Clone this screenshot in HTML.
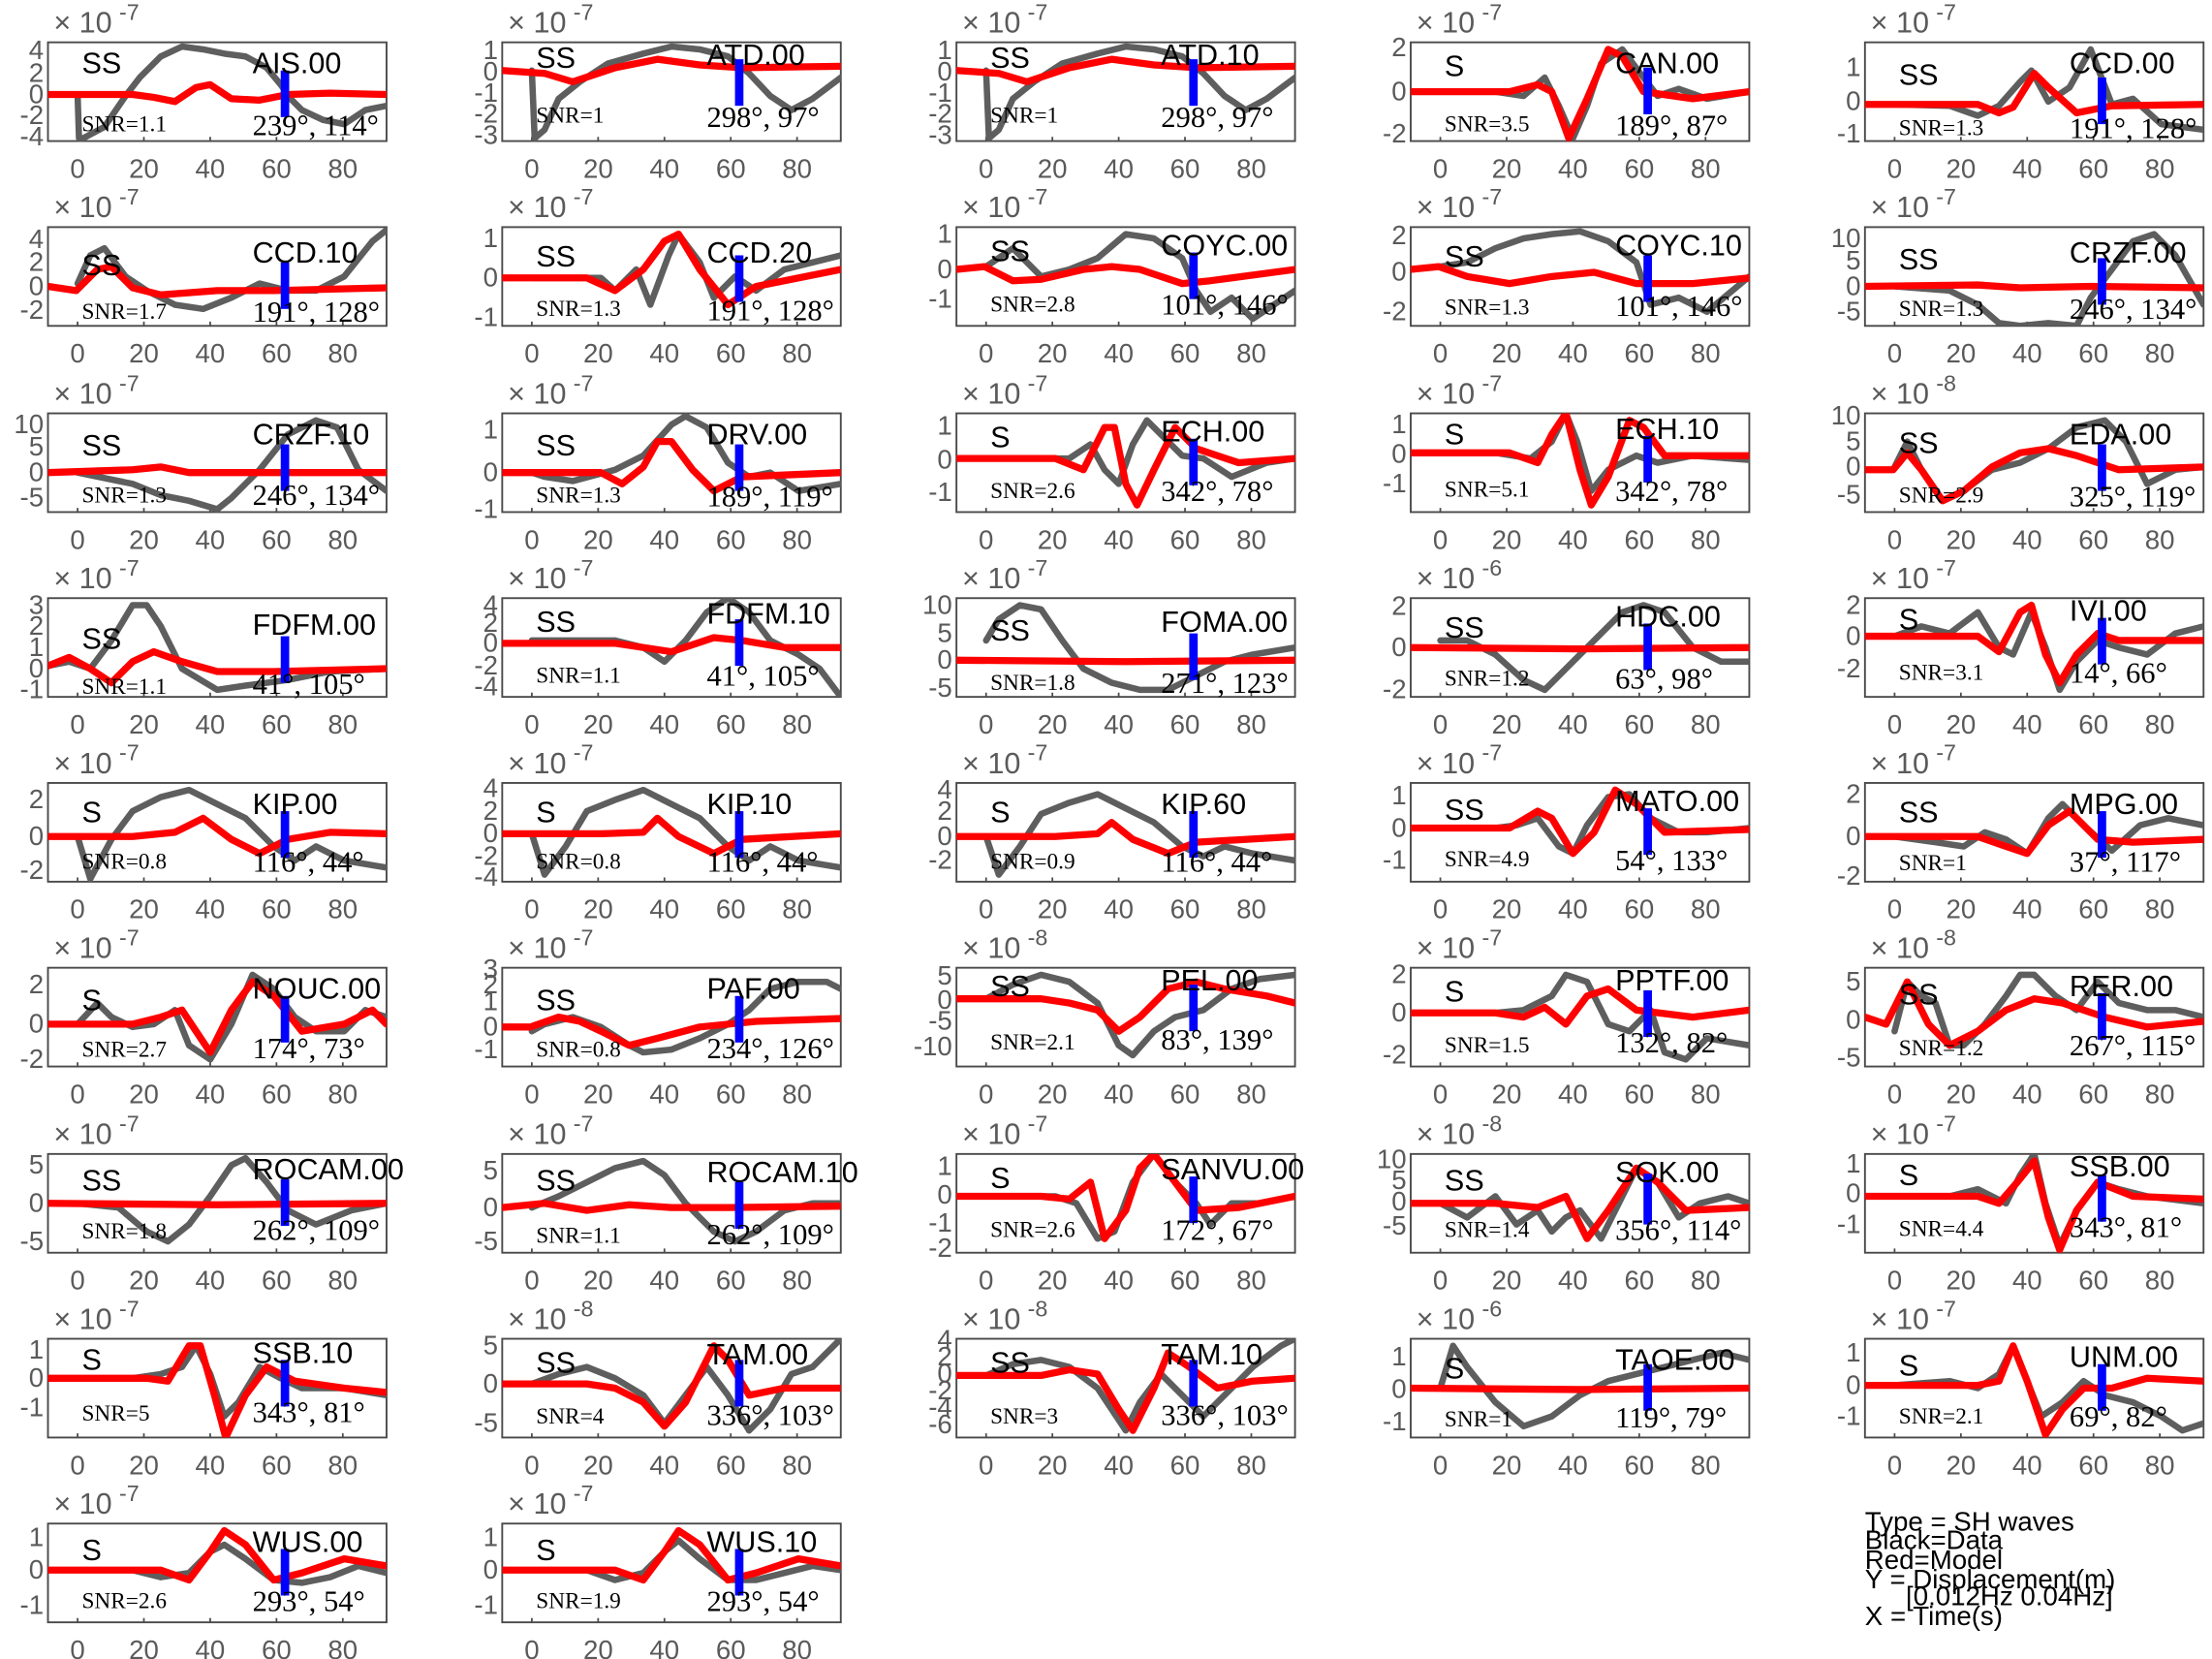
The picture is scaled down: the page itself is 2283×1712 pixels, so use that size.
<!DOCTYPE html>
<html><head><meta charset="utf-8"><style>
html,body{margin:0;padding:0;background:#fff}
svg{display:block}
.f{fill:none;stroke:#4a4a4a;stroke-width:1.3}
.k{stroke:#4a4a4a;stroke-width:1.2}
.g{fill:none;stroke:#5e5e5e;stroke-width:4.5;stroke-linejoin:round;stroke-linecap:round}
.r{fill:none;stroke:#ff0000;stroke-width:5;stroke-linejoin:round;stroke-linecap:round}
.b{fill:#0000ff}
.xt{font-family:"Liberation Sans",sans-serif;font-size:19px;fill:#5a5a5a;text-anchor:middle}
.yt{font-family:"Liberation Sans",sans-serif;font-size:19px;fill:#5a5a5a;text-anchor:end}
.e{font-family:"Liberation Sans",sans-serif;font-size:21px;fill:#5a5a5a}
.nm{font-family:"Liberation Sans",sans-serif;font-size:21px;fill:#000}
.ph{font-family:"Liberation Sans",sans-serif;font-size:21px;fill:#000}
.sn{font-family:"Liberation Serif",serif;font-size:16px;fill:#000}
.an{font-family:"Liberation Serif",serif;font-size:21px;fill:#000}
.lg{font-family:"Liberation Sans",sans-serif;font-size:19px;fill:#000}
</style></head><body>
<svg width="2283" height="1712" viewBox="0 0 1568 1176" preserveAspectRatio="none" xmlns="http://www.w3.org/2000/svg">
<defs><clipPath id="c" clipPathUnits="userSpaceOnUse"><rect x="0" y="0" width="240" height="70"/></clipPath></defs>

<!-- Row 1 -->
<g transform="translate(34,30)"><rect class="f" width="240" height="70"/><path class="k" d="M21,70v-3M68,70v-3M115,70v-3M162,70v-3M209,70v-3"/>
<text class="xt" y="96"><tspan x="21">0</tspan><tspan x="68">20</tspan><tspan x="115">40</tspan><tspan x="162">60</tspan><tspan x="209">80</tspan></text>
<text class="yt"><tspan x="-3" y="12">4</tspan><tspan x="-3" y="28">2</tspan><tspan x="-3" y="43">0</tspan><tspan x="-3" y="58">-2</tspan><tspan x="-3" y="73">-4</tspan></text>
<text class="e" x="4" y="-7">× 10<tspan dx="5" dy="-9" font-size="16">-7</tspan></text>
<polyline class="g" clip-path="url(#c)" points="21,37 22,68 25,68 40,60 55,38 65,25 80,10 95,3 110,5 125,8 140,10 155,18 165,30 172,40 180,48 195,55 210,58 225,48 240,45"/>
<polyline class="r" clip-path="url(#c)" points="0,37 60,37 75,39 90,42 105,32 115,30 130,40 150,41 170,37 200,36 240,37"/>
<rect class="b" x="165" y="20" width="6" height="33"/>
<text class="ph" x="24" y="22">SS</text><text class="nm" x="145" y="22">AIS.00</text><text class="sn" x="24" y="63">SNR=1.1</text><text class="an" x="145" y="66">239°, 114°</text></g>

<g transform="translate(356,30)"><rect class="f" width="240" height="70"/><path class="k" d="M21,70v-3M68,70v-3M115,70v-3M162,70v-3M209,70v-3"/>
<text class="xt" y="96"><tspan x="21">0</tspan><tspan x="68">20</tspan><tspan x="115">40</tspan><tspan x="162">60</tspan><tspan x="209">80</tspan></text>
<text class="yt"><tspan x="-3" y="12">1</tspan><tspan x="-3" y="27">0</tspan><tspan x="-3" y="42">-1</tspan><tspan x="-3" y="57">-2</tspan><tspan x="-3" y="72">-3</tspan></text>
<text class="e" x="4" y="-7">× 10<tspan dx="5" dy="-9" font-size="16">-7</tspan></text>
<polyline class="g" clip-path="url(#c)" points="21,20 23,68 30,62 40,40 55,28 75,15 100,8 120,3 140,5 160,10 175,22 190,38 205,48 220,40 240,25"/>
<polyline class="r" clip-path="url(#c)" points="0,20 30,22 50,28 80,18 110,12 140,16 170,18 240,17"/>
<rect class="b" x="165" y="12" width="6" height="33"/>
<text class="ph" x="24" y="18">SS</text><text class="nm" x="145" y="16">ATD.00</text><text class="sn" x="24" y="57">SNR=1</text><text class="an" x="145" y="60">298°, 97°</text></g>

<g transform="translate(678,30)"><rect class="f" width="240" height="70"/><path class="k" d="M21,70v-3M68,70v-3M115,70v-3M162,70v-3M209,70v-3"/>
<text class="xt" y="96"><tspan x="21">0</tspan><tspan x="68">20</tspan><tspan x="115">40</tspan><tspan x="162">60</tspan><tspan x="209">80</tspan></text>
<text class="yt"><tspan x="-3" y="12">1</tspan><tspan x="-3" y="27">0</tspan><tspan x="-3" y="42">-1</tspan><tspan x="-3" y="57">-2</tspan><tspan x="-3" y="72">-3</tspan></text>
<text class="e" x="4" y="-7">× 10<tspan dx="5" dy="-9" font-size="16">-7</tspan></text>
<polyline class="g" clip-path="url(#c)" points="21,20 23,68 30,62 40,40 55,28 75,15 100,8 120,3 140,5 160,10 175,22 190,38 205,48 220,40 240,25"/>
<polyline class="r" clip-path="url(#c)" points="0,20 30,22 50,28 80,18 110,12 140,16 170,18 240,17"/>
<rect class="b" x="165" y="12" width="6" height="33"/>
<text class="ph" x="24" y="18">SS</text><text class="nm" x="145" y="16">ATD.10</text><text class="sn" x="24" y="57">SNR=1</text><text class="an" x="145" y="60">298°, 97°</text></g>

<g transform="translate(1000,30)"><rect class="f" width="240" height="70"/><path class="k" d="M21,70v-3M68,70v-3M115,70v-3M162,70v-3M209,70v-3"/>
<text class="xt" y="96"><tspan x="21">0</tspan><tspan x="68">20</tspan><tspan x="115">40</tspan><tspan x="162">60</tspan><tspan x="209">80</tspan></text>
<text class="yt"><tspan x="-3" y="10">2</tspan><tspan x="-3" y="41">0</tspan><tspan x="-3" y="71">-2</tspan></text>
<text class="e" x="4" y="-7">× 10<tspan dx="5" dy="-9" font-size="16">-7</tspan></text>
<polyline class="g" clip-path="url(#c)" points="21,35 60,35 80,38 95,25 105,45 115,68 125,45 135,15 150,5 165,25 175,38 190,33 210,40 240,35"/>
<polyline class="r" clip-path="url(#c)" points="0,35 70,35 90,30 100,35 112,68 125,40 140,5 150,10 165,35 200,40 240,35"/>
<rect class="b" x="165" y="18" width="6" height="33"/>
<text class="ph" x="24" y="24">S</text><text class="nm" x="145" y="22">CAN.00</text><text class="sn" x="24" y="63">SNR=3.5</text><text class="an" x="145" y="66">189°, 87°</text></g>

<g transform="translate(1322,30)"><rect class="f" width="240" height="70"/><path class="k" d="M21,70v-3M68,70v-3M115,70v-3M162,70v-3M209,70v-3"/>
<text class="xt" y="96"><tspan x="21">0</tspan><tspan x="68">20</tspan><tspan x="115">40</tspan><tspan x="162">60</tspan><tspan x="209">80</tspan></text>
<text class="yt"><tspan x="-3" y="24">1</tspan><tspan x="-3" y="48">0</tspan><tspan x="-3" y="71">-1</tspan></text>
<text class="e" x="4" y="-7">× 10<tspan dx="5" dy="-9" font-size="16">-7</tspan></text>
<polyline class="g" clip-path="url(#c)" points="21,44 60,45 80,52 95,45 110,28 118,20 130,42 145,32 160,5 175,44 190,40 210,58 240,62"/>
<polyline class="r" clip-path="url(#c)" points="0,44 80,44 95,50 105,46 120,22 130,32 150,50 175,45 240,44"/>
<rect class="b" x="165" y="25" width="6" height="33"/>
<text class="ph" x="24" y="30">SS</text><text class="nm" x="145" y="22">CCD.00</text><text class="sn" x="24" y="66">SNR=1.3</text><text class="an" x="145" y="68">191°, 128°</text></g>

<!-- Row 2 -->
<g transform="translate(34,161)"><rect class="f" width="240" height="70"/><path class="k" d="M21,70v-3M68,70v-3M115,70v-3M162,70v-3M209,70v-3"/>
<text class="xt" y="96"><tspan x="21">0</tspan><tspan x="68">20</tspan><tspan x="115">40</tspan><tspan x="162">60</tspan><tspan x="209">80</tspan></text>
<text class="yt"><tspan x="-3" y="15">4</tspan><tspan x="-3" y="31">2</tspan><tspan x="-3" y="48">0</tspan><tspan x="-3" y="65">-2</tspan></text>
<text class="e" x="4" y="-7">× 10<tspan dx="5" dy="-9" font-size="16">-7</tspan></text>
<polyline class="g" clip-path="url(#c)" points="21,40 30,20 40,15 55,35 70,45 90,55 110,58 130,50 150,40 170,45 190,45 210,35 230,10 240,2"/>
<polyline class="r" clip-path="url(#c)" points="0,42 20,45 35,30 45,28 60,43 80,48 120,45 160,45 240,43"/>
<rect class="b" x="165" y="25" width="6" height="33"/>
<text class="ph" x="24" y="34">SS</text><text class="nm" x="145" y="25">CCD.10</text><text class="sn" x="24" y="65">SNR=1.7</text><text class="an" x="145" y="67">191°, 128°</text></g>

<g transform="translate(356,161)"><rect class="f" width="240" height="70"/><path class="k" d="M21,70v-3M68,70v-3M115,70v-3M162,70v-3M209,70v-3"/>
<text class="xt" y="96"><tspan x="21">0</tspan><tspan x="68">20</tspan><tspan x="115">40</tspan><tspan x="162">60</tspan><tspan x="209">80</tspan></text>
<text class="yt"><tspan x="-3" y="14">1</tspan><tspan x="-3" y="42">0</tspan><tspan x="-3" y="70">-1</tspan></text>
<text class="e" x="4" y="-7">× 10<tspan dx="5" dy="-9" font-size="16">-7</tspan></text>
<polyline class="g" clip-path="url(#c)" points="21,36 70,36 80,45 95,30 105,55 118,20 125,5 140,25 150,50 165,35 180,45 200,30 220,25 240,20"/>
<polyline class="r" clip-path="url(#c)" points="0,36 60,36 80,45 100,30 115,10 125,5 140,30 160,55 180,42 240,30"/>
<rect class="b" x="165" y="20" width="6" height="33"/>
<text class="ph" x="24" y="28">SS</text><text class="nm" x="145" y="25">CCD.20</text><text class="sn" x="24" y="63">SNR=1.3</text><text class="an" x="145" y="66">191°, 128°</text></g>

<g transform="translate(678,161)"><rect class="f" width="240" height="70"/><path class="k" d="M21,70v-3M68,70v-3M115,70v-3M162,70v-3M209,70v-3"/>
<text class="xt" y="96"><tspan x="21">0</tspan><tspan x="68">20</tspan><tspan x="115">40</tspan><tspan x="162">60</tspan><tspan x="209">80</tspan></text>
<text class="yt"><tspan x="-3" y="11">1</tspan><tspan x="-3" y="36">0</tspan><tspan x="-3" y="57">-1</tspan></text>
<text class="e" x="4" y="-7">× 10<tspan dx="5" dy="-9" font-size="16">-7</tspan></text>
<polyline class="g" clip-path="url(#c)" points="21,28 40,15 60,35 80,30 100,22 120,5 140,8 160,22 170,45 180,60 195,50 210,65 240,45"/>
<polyline class="r" clip-path="url(#c)" points="0,30 20,28 40,38 60,37 90,30 110,28 130,30 160,40 180,38 240,30"/>
<rect class="b" x="165" y="18" width="6" height="33"/>
<text class="ph" x="24" y="24">SS</text><text class="nm" x="145" y="20">COYC.00</text><text class="sn" x="24" y="60">SNR=2.8</text><text class="an" x="145" y="62">101°, 146°</text></g>

<g transform="translate(1000,161)"><rect class="f" width="240" height="70"/><path class="k" d="M21,70v-3M68,70v-3M115,70v-3M162,70v-3M209,70v-3"/>
<text class="xt" y="96"><tspan x="21">0</tspan><tspan x="68">20</tspan><tspan x="115">40</tspan><tspan x="162">60</tspan><tspan x="209">80</tspan></text>
<text class="yt"><tspan x="-3" y="12">2</tspan><tspan x="-3" y="38">0</tspan><tspan x="-3" y="66">-2</tspan></text>
<text class="e" x="4" y="-7">× 10<tspan dx="5" dy="-9" font-size="16">-7</tspan></text>
<polyline class="g" clip-path="url(#c)" points="21,28 40,25 60,15 80,8 100,5 120,3 140,10 160,25 170,55 190,50 210,60 240,35"/>
<polyline class="r" clip-path="url(#c)" points="0,30 20,28 40,35 70,40 100,35 130,32 160,40 200,40 240,36"/>
<rect class="b" x="165" y="20" width="6" height="33"/>
<text class="ph" x="24" y="28">SS</text><text class="nm" x="145" y="20">COYC.10</text><text class="sn" x="24" y="62">SNR=1.3</text><text class="an" x="145" y="63">101°, 146°</text></g>

<g transform="translate(1322,161)"><rect class="f" width="240" height="70"/><path class="k" d="M21,70v-3M68,70v-3M115,70v-3M162,70v-3M209,70v-3"/>
<text class="xt" y="96"><tspan x="21">0</tspan><tspan x="68">20</tspan><tspan x="115">40</tspan><tspan x="162">60</tspan><tspan x="209">80</tspan></text>
<text class="yt"><tspan x="-3" y="14">10</tspan><tspan x="-3" y="30">5</tspan><tspan x="-3" y="48">0</tspan><tspan x="-3" y="66">-5</tspan></text>
<text class="e" x="4" y="-7">× 10<tspan dx="5" dy="-9" font-size="16">-7</tspan></text>
<polyline class="g" clip-path="url(#c)" points="21,42 60,45 80,55 95,68 110,70 130,68 150,70 160,50 175,30 190,10 205,5 220,20 240,55"/>
<polyline class="r" clip-path="url(#c)" points="0,42 80,41 110,43 160,42 240,43"/>
<rect class="b" x="165" y="22" width="6" height="33"/>
<text class="ph" x="24" y="30">SS</text><text class="nm" x="145" y="25">CRZF.00</text><text class="sn" x="24" y="63">SNR=1.3</text><text class="an" x="145" y="65">246°, 134°</text></g>

<!-- Row 3 -->
<g transform="translate(34,293)"><rect class="f" width="240" height="70"/><path class="k" d="M21,70v-3M68,70v-3M115,70v-3M162,70v-3M209,70v-3"/>
<text class="xt" y="96"><tspan x="21">0</tspan><tspan x="68">20</tspan><tspan x="115">40</tspan><tspan x="162">60</tspan><tspan x="209">80</tspan></text>
<text class="yt"><tspan x="-3" y="14">10</tspan><tspan x="-3" y="30">5</tspan><tspan x="-3" y="48">0</tspan><tspan x="-3" y="66">-5</tspan></text>
<text class="e" x="4" y="-7">× 10<tspan dx="5" dy="-9" font-size="16">-7</tspan></text>
<polyline class="g" clip-path="url(#c)" points="21,42 60,50 80,58 100,62 120,68 130,60 150,40 170,15 190,5 205,10 220,40 240,55"/>
<polyline class="r" clip-path="url(#c)" points="0,42 60,40 80,38 100,42 240,42"/>
<rect class="b" x="165" y="22" width="6" height="33"/>
<text class="ph" x="24" y="30">SS</text><text class="nm" x="145" y="22">CRZF.10</text><text class="sn" x="24" y="63">SNR=1.3</text><text class="an" x="145" y="65">246°, 134°</text></g>

<g transform="translate(356,293)"><rect class="f" width="240" height="70"/><path class="k" d="M21,70v-3M68,70v-3M115,70v-3M162,70v-3M209,70v-3"/>
<text class="xt" y="96"><tspan x="21">0</tspan><tspan x="68">20</tspan><tspan x="115">40</tspan><tspan x="162">60</tspan><tspan x="209">80</tspan></text>
<text class="yt"><tspan x="-3" y="18">1</tspan><tspan x="-3" y="48">0</tspan><tspan x="-3" y="74">-1</tspan></text>
<text class="e" x="4" y="-7">× 10<tspan dx="5" dy="-9" font-size="16">-7</tspan></text>
<polyline class="g" clip-path="url(#c)" points="21,42 30,45 50,48 80,40 100,30 120,8 130,2 145,10 160,35 175,45 190,42 210,55 240,50"/>
<polyline class="r" clip-path="url(#c)" points="0,42 70,42 85,50 100,38 110,20 120,20 135,40 150,55 170,45 240,42"/>
<rect class="b" x="165" y="22" width="6" height="33"/>
<text class="ph" x="24" y="30">SS</text><text class="nm" x="145" y="22">DRV.00</text><text class="sn" x="24" y="63">SNR=1.3</text><text class="an" x="145" y="66">189°, 119°</text></g>

<g transform="translate(678,293)"><rect class="f" width="240" height="70"/><path class="k" d="M21,70v-3M68,70v-3M115,70v-3M162,70v-3M209,70v-3"/>
<text class="xt" y="96"><tspan x="21">0</tspan><tspan x="68">20</tspan><tspan x="115">40</tspan><tspan x="162">60</tspan><tspan x="209">80</tspan></text>
<text class="yt"><tspan x="-3" y="15">1</tspan><tspan x="-3" y="39">0</tspan><tspan x="-3" y="62">-1</tspan></text>
<text class="e" x="4" y="-7">× 10<tspan dx="5" dy="-9" font-size="16">-7</tspan></text>
<polyline class="g" clip-path="url(#c)" points="21,32 80,32 95,22 105,40 115,50 125,22 135,5 145,15 160,30 175,32 195,45 220,35 240,32"/>
<polyline class="r" clip-path="url(#c)" points="0,32 70,32 90,40 105,10 112,10 120,50 128,65 140,40 155,10 170,25 200,35 240,32"/>
<rect class="b" x="165" y="18" width="6" height="33"/>
<text class="ph" x="24" y="24">S</text><text class="nm" x="145" y="20">ECH.00</text><text class="sn" x="24" y="60">SNR=2.6</text><text class="an" x="145" y="62">342°, 78°</text></g>

<g transform="translate(1000,293)"><rect class="f" width="240" height="70"/><path class="k" d="M21,70v-3M68,70v-3M115,70v-3M162,70v-3M209,70v-3"/>
<text class="xt" y="96"><tspan x="21">0</tspan><tspan x="68">20</tspan><tspan x="115">40</tspan><tspan x="162">60</tspan><tspan x="209">80</tspan></text>
<text class="yt"><tspan x="-3" y="14">1</tspan><tspan x="-3" y="35">0</tspan><tspan x="-3" y="56">-1</tspan></text>
<text class="e" x="4" y="-7">× 10<tspan dx="5" dy="-9" font-size="16">-7</tspan></text>
<polyline class="g" clip-path="url(#c)" points="21,28 60,28 85,32 100,20 110,0 118,20 128,55 140,40 160,30 175,35 200,30 240,33"/>
<polyline class="r" clip-path="url(#c)" points="0,28 70,28 90,35 100,15 110,0 120,40 128,65 140,45 155,5 165,10 180,30 240,30"/>
<rect class="b" x="165" y="16" width="6" height="33"/>
<text class="ph" x="24" y="22">S</text><text class="nm" x="145" y="18">ECH.10</text><text class="sn" x="24" y="59">SNR=5.1</text><text class="an" x="145" y="62">342°, 78°</text></g>

<g transform="translate(1322,293)"><rect class="f" width="240" height="70"/><path class="k" d="M21,70v-3M68,70v-3M115,70v-3M162,70v-3M209,70v-3"/>
<text class="xt" y="96"><tspan x="21">0</tspan><tspan x="68">20</tspan><tspan x="115">40</tspan><tspan x="162">60</tspan><tspan x="209">80</tspan></text>
<text class="yt"><tspan x="-3" y="8">10</tspan><tspan x="-3" y="26">5</tspan><tspan x="-3" y="44">0</tspan><tspan x="-3" y="64">-5</tspan></text>
<text class="e" x="4" y="-7">× 10<tspan dx="5" dy="-9" font-size="16">-8</tspan></text>
<polyline class="g" clip-path="url(#c)" points="21,38 30,20 40,40 55,62 70,55 90,40 110,35 130,25 150,10 170,5 185,20 200,50 220,40 240,38"/>
<polyline class="r" clip-path="url(#c)" points="0,40 20,40 30,28 40,40 55,62 70,55 90,38 110,28 130,25 150,30 180,40 240,38"/>
<rect class="b" x="165" y="22" width="6" height="33"/>
<text class="ph" x="24" y="28">SS</text><text class="nm" x="145" y="22">EDA.00</text><text class="sn" x="24" y="63">SNR=2.9</text><text class="an" x="145" y="66">325°, 119°</text></g>

<!-- Row 4 -->
<g transform="translate(34,424)"><rect class="f" width="240" height="70"/><path class="k" d="M21,70v-3M68,70v-3M115,70v-3M162,70v-3M209,70v-3"/>
<text class="xt" y="96"><tspan x="21">0</tspan><tspan x="68">20</tspan><tspan x="115">40</tspan><tspan x="162">60</tspan><tspan x="209">80</tspan></text>
<text class="yt"><tspan x="-3" y="11">3</tspan><tspan x="-3" y="26">2</tspan><tspan x="-3" y="41">1</tspan><tspan x="-3" y="56">0</tspan><tspan x="-3" y="71">-1</tspan></text>
<text class="e" x="4" y="-7">× 10<tspan dx="5" dy="-9" font-size="16">-7</tspan></text>
<polyline class="g" clip-path="url(#c)" points="0,48 15,45 30,50 45,30 60,5 70,5 80,20 95,50 120,65 140,62 170,58 200,52 240,50"/>
<polyline class="r" clip-path="url(#c)" points="0,48 15,42 30,50 45,60 60,45 75,38 95,45 120,52 160,52 240,50"/>
<rect class="b" x="165" y="27" width="6" height="33"/>
<text class="ph" x="24" y="36">SS</text><text class="nm" x="145" y="26">FDFM.00</text><text class="sn" x="24" y="68">SNR=1.1</text><text class="an" x="145" y="68">41°, 105°</text></g>

<g transform="translate(356,424)"><rect class="f" width="240" height="70"/><path class="k" d="M21,70v-3M68,70v-3M115,70v-3M162,70v-3M209,70v-3"/>
<text class="xt" y="96"><tspan x="21">0</tspan><tspan x="68">20</tspan><tspan x="115">40</tspan><tspan x="162">60</tspan><tspan x="209">80</tspan></text>
<text class="yt"><tspan x="-3" y="11">4</tspan><tspan x="-3" y="24">2</tspan><tspan x="-3" y="38">0</tspan><tspan x="-3" y="54">-2</tspan><tspan x="-3" y="69">-4</tspan></text>
<text class="e" x="4" y="-7">× 10<tspan dx="5" dy="-9" font-size="16">-7</tspan></text>
<polyline class="g" clip-path="url(#c)" points="21,30 50,30 80,30 100,35 115,45 130,30 145,10 160,0 175,10 190,30 210,40 225,50 240,70"/>
<polyline class="r" clip-path="url(#c)" points="0,32 80,32 100,35 120,38 150,28 170,30 200,35 240,35"/>
<rect class="b" x="165" y="15" width="6" height="33"/>
<text class="ph" x="24" y="24">SS</text><text class="nm" x="145" y="18">FDFM.10</text><text class="sn" x="24" y="60">SNR=1.1</text><text class="an" x="145" y="62">41°, 105°</text></g>

<g transform="translate(678,424)"><rect class="f" width="240" height="70"/><path class="k" d="M21,70v-3M68,70v-3M115,70v-3M162,70v-3M209,70v-3"/>
<text class="xt" y="96"><tspan x="21">0</tspan><tspan x="68">20</tspan><tspan x="115">40</tspan><tspan x="162">60</tspan><tspan x="209">80</tspan></text>
<text class="yt"><tspan x="-3" y="11">10</tspan><tspan x="-3" y="31">5</tspan><tspan x="-3" y="50">0</tspan><tspan x="-3" y="70">-5</tspan></text>
<text class="e" x="4" y="-7">× 10<tspan dx="5" dy="-9" font-size="16">-7</tspan></text>
<polyline class="g" clip-path="url(#c)" points="21,30 30,15 45,5 60,8 75,30 90,50 110,60 130,65 150,65 170,55 190,45 210,40 240,35"/>
<polyline class="r" clip-path="url(#c)" points="0,44 120,45 240,44"/>
<rect class="b" x="165" y="25" width="6" height="33"/>
<text class="ph" x="24" y="30">SS</text><text class="nm" x="145" y="24">FOMA.00</text><text class="sn" x="24" y="65">SNR=1.8</text><text class="an" x="145" y="67">271°, 123°</text></g>

<g transform="translate(1000,424)"><rect class="f" width="240" height="70"/><path class="k" d="M21,70v-3M68,70v-3M115,70v-3M162,70v-3M209,70v-3"/>
<text class="xt" y="96"><tspan x="21">0</tspan><tspan x="68">20</tspan><tspan x="115">40</tspan><tspan x="162">60</tspan><tspan x="209">80</tspan></text>
<text class="yt"><tspan x="-3" y="12">2</tspan><tspan x="-3" y="41">0</tspan><tspan x="-3" y="71">-2</tspan></text>
<text class="e" x="4" y="-7">× 10<tspan dx="5" dy="-9" font-size="16">-6</tspan></text>
<polyline class="g" clip-path="url(#c)" points="21,30 40,30 60,40 80,58 95,65 110,50 130,30 150,10 165,5 180,10 200,35 220,45 240,45"/>
<polyline class="r" clip-path="url(#c)" points="0,35 120,36 240,35"/>
<rect class="b" x="165" y="18" width="6" height="33"/>
<text class="ph" x="24" y="28">SS</text><text class="nm" x="145" y="20">HDC.00</text><text class="sn" x="24" y="62">SNR=1.2</text><text class="an" x="145" y="64">63°, 98°</text></g>

<g transform="translate(1322,424)"><rect class="f" width="240" height="70"/><path class="k" d="M21,70v-3M68,70v-3M115,70v-3M162,70v-3M209,70v-3"/>
<text class="xt" y="96"><tspan x="21">0</tspan><tspan x="68">20</tspan><tspan x="115">40</tspan><tspan x="162">60</tspan><tspan x="209">80</tspan></text>
<text class="yt"><tspan x="-3" y="11">2</tspan><tspan x="-3" y="33">0</tspan><tspan x="-3" y="56">-2</tspan></text>
<text class="e" x="4" y="-7">× 10<tspan dx="5" dy="-9" font-size="16">-7</tspan></text>
<polyline class="g" clip-path="url(#c)" points="21,27 40,20 60,25 80,10 95,35 105,40 118,10 128,35 138,65 150,45 165,30 180,35 200,40 220,25 240,20"/>
<polyline class="r" clip-path="url(#c)" points="0,27 80,27 95,38 110,10 118,5 128,40 138,60 150,40 165,25 180,30 240,30"/>
<rect class="b" x="165" y="14" width="6" height="33"/>
<text class="ph" x="24" y="22">S</text><text class="nm" x="145" y="16">IVI.00</text><text class="sn" x="24" y="58">SNR=3.1</text><text class="an" x="145" y="60">14°, 66°</text></g>

<!-- Row 5 -->
<g transform="translate(34,555)"><rect class="f" width="240" height="70"/><path class="k" d="M21,70v-3M68,70v-3M115,70v-3M162,70v-3M209,70v-3"/>
<text class="xt" y="96"><tspan x="21">0</tspan><tspan x="68">20</tspan><tspan x="115">40</tspan><tspan x="162">60</tspan><tspan x="209">80</tspan></text>
<text class="yt"><tspan x="-3" y="18">2</tspan><tspan x="-3" y="44">0</tspan><tspan x="-3" y="68">-2</tspan></text>
<text class="e" x="4" y="-7">× 10<tspan dx="5" dy="-9" font-size="16">-7</tspan></text>
<polyline class="g" clip-path="url(#c)" points="21,38 30,68 45,40 60,20 80,10 100,5 120,15 140,25 160,45 175,55 190,45 210,55 240,60"/>
<polyline class="r" clip-path="url(#c)" points="0,38 60,38 90,35 110,25 130,40 150,50 170,40 200,35 240,36"/>
<rect class="b" x="165" y="20" width="6" height="33"/>
<text class="ph" x="24" y="28">S</text><text class="nm" x="145" y="22">KIP.00</text><text class="sn" x="24" y="61">SNR=0.8</text><text class="an" x="145" y="63">116°, 44°</text></g>

<g transform="translate(356,555)"><rect class="f" width="240" height="70"/><path class="k" d="M21,70v-3M68,70v-3M115,70v-3M162,70v-3M209,70v-3"/>
<text class="xt" y="96"><tspan x="21">0</tspan><tspan x="68">20</tspan><tspan x="115">40</tspan><tspan x="162">60</tspan><tspan x="209">80</tspan></text>
<text class="yt"><tspan x="-3" y="10">4</tspan><tspan x="-3" y="26">2</tspan><tspan x="-3" y="42">0</tspan><tspan x="-3" y="58">-2</tspan><tspan x="-3" y="73">-4</tspan></text>
<text class="e" x="4" y="-7">× 10<tspan dx="5" dy="-9" font-size="16">-7</tspan></text>
<polyline class="g" clip-path="url(#c)" points="21,36 30,65 45,45 60,20 80,12 100,5 120,15 140,25 160,45 175,55 190,45 210,55 240,60"/>
<polyline class="r" clip-path="url(#c)" points="0,36 70,36 100,35 110,25 125,38 150,50 170,40 240,36"/>
<rect class="b" x="165" y="20" width="6" height="33"/>
<text class="ph" x="24" y="28">S</text><text class="nm" x="145" y="22">KIP.10</text><text class="sn" x="24" y="61">SNR=0.8</text><text class="an" x="145" y="63">116°, 44°</text></g>

<g transform="translate(678,555)"><rect class="f" width="240" height="70"/><path class="k" d="M21,70v-3M68,70v-3M115,70v-3M162,70v-3M209,70v-3"/>
<text class="xt" y="96"><tspan x="21">0</tspan><tspan x="68">20</tspan><tspan x="115">40</tspan><tspan x="162">60</tspan><tspan x="209">80</tspan></text>
<text class="yt"><tspan x="-3" y="11">4</tspan><tspan x="-3" y="26">2</tspan><tspan x="-3" y="44">0</tspan><tspan x="-3" y="61">-2</tspan></text>
<text class="e" x="4" y="-7">× 10<tspan dx="5" dy="-9" font-size="16">-7</tspan></text>
<polyline class="g" clip-path="url(#c)" points="21,38 30,65 45,45 60,22 80,14 100,8 120,18 140,28 160,45 175,52 190,45 210,50 240,55"/>
<polyline class="r" clip-path="url(#c)" points="0,38 70,38 100,36 110,28 125,40 150,50 170,42 240,38"/>
<rect class="b" x="165" y="20" width="6" height="33"/>
<text class="ph" x="24" y="28">S</text><text class="nm" x="145" y="22">KIP.60</text><text class="sn" x="24" y="61">SNR=0.9</text><text class="an" x="145" y="63">116°, 44°</text></g>

<g transform="translate(1000,555)"><rect class="f" width="240" height="70"/><path class="k" d="M21,70v-3M68,70v-3M115,70v-3M162,70v-3M209,70v-3"/>
<text class="xt" y="96"><tspan x="21">0</tspan><tspan x="68">20</tspan><tspan x="115">40</tspan><tspan x="162">60</tspan><tspan x="209">80</tspan></text>
<text class="yt"><tspan x="-3" y="15">1</tspan><tspan x="-3" y="38">0</tspan><tspan x="-3" y="61">-1</tspan></text>
<text class="e" x="4" y="-7">× 10<tspan dx="5" dy="-9" font-size="16">-7</tspan></text>
<polyline class="g" clip-path="url(#c)" points="21,32 60,32 75,30 90,25 105,45 115,50 125,30 140,10 155,8 170,25 190,35 210,35 240,32"/>
<polyline class="r" clip-path="url(#c)" points="0,32 70,32 90,20 100,25 115,50 130,35 145,5 160,15 180,35 240,33"/>
<rect class="b" x="165" y="18" width="6" height="33"/>
<text class="ph" x="24" y="26">SS</text><text class="nm" x="145" y="20">MATO.00</text><text class="sn" x="24" y="59">SNR=4.9</text><text class="an" x="145" y="62">54°, 133°</text></g>

<g transform="translate(1322,555)"><rect class="f" width="240" height="70"/><path class="k" d="M21,70v-3M68,70v-3M115,70v-3M162,70v-3M209,70v-3"/>
<text class="xt" y="96"><tspan x="21">0</tspan><tspan x="68">20</tspan><tspan x="115">40</tspan><tspan x="162">60</tspan><tspan x="209">80</tspan></text>
<text class="yt"><tspan x="-3" y="14">2</tspan><tspan x="-3" y="44">0</tspan><tspan x="-3" y="72">-2</tspan></text>
<text class="e" x="4" y="-7">× 10<tspan dx="5" dy="-9" font-size="16">-7</tspan></text>
<polyline class="g" clip-path="url(#c)" points="21,38 50,42 70,45 85,35 100,40 115,50 130,25 140,15 155,30 175,48 195,30 215,25 240,30"/>
<polyline class="r" clip-path="url(#c)" points="0,38 80,38 100,45 115,50 130,30 145,20 165,40 190,42 240,40"/>
<rect class="b" x="165" y="20" width="6" height="33"/>
<text class="ph" x="24" y="28">SS</text><text class="nm" x="145" y="22">MPG.00</text><text class="sn" x="24" y="62">SNR=1</text><text class="an" x="145" y="63">37°, 117°</text></g>

<!-- Row 6 -->
<g transform="translate(34,686)"><rect class="f" width="240" height="70"/><path class="k" d="M21,70v-3M68,70v-3M115,70v-3M162,70v-3M209,70v-3"/>
<text class="xt" y="96"><tspan x="21">0</tspan><tspan x="68">20</tspan><tspan x="115">40</tspan><tspan x="162">60</tspan><tspan x="209">80</tspan></text>
<text class="yt"><tspan x="-3" y="18">2</tspan><tspan x="-3" y="46">0</tspan><tspan x="-3" y="71">-2</tspan></text>
<text class="e" x="4" y="-7">× 10<tspan dx="5" dy="-9" font-size="16">-7</tspan></text>
<polyline class="g" clip-path="url(#c)" points="21,40 35,25 45,35 60,42 75,40 90,30 100,55 115,65 130,40 145,5 160,15 175,35 190,45 210,45 225,30 240,35"/>
<polyline class="r" clip-path="url(#c)" points="0,40 60,40 80,35 95,30 105,45 115,60 130,30 145,10 160,20 180,45 210,40 230,30 240,40"/>
<rect class="b" x="165" y="20" width="6" height="33"/>
<text class="ph" x="24" y="30">S</text><text class="nm" x="145" y="22">NOUC.00</text><text class="sn" x="24" y="63">SNR=2.7</text><text class="an" x="145" y="64">174°, 73°</text></g>

<g transform="translate(356,686)"><rect class="f" width="240" height="70"/><path class="k" d="M21,70v-3M68,70v-3M115,70v-3M162,70v-3M209,70v-3"/>
<text class="xt" y="96"><tspan x="21">0</tspan><tspan x="68">20</tspan><tspan x="115">40</tspan><tspan x="162">60</tspan><tspan x="209">80</tspan></text>
<text class="yt"><tspan x="-3" y="7">3</tspan><tspan x="-3" y="18">2</tspan><tspan x="-3" y="30">1</tspan><tspan x="-3" y="48">0</tspan><tspan x="-3" y="64">-1</tspan></text>
<text class="e" x="4" y="-7">× 10<tspan dx="5" dy="-9" font-size="16">-7</tspan></text>
<polyline class="g" clip-path="url(#c)" points="21,45 30,40 50,35 70,42 90,55 100,60 120,58 140,50 160,40 175,30 190,15 210,10 230,10 240,15"/>
<polyline class="r" clip-path="url(#c)" points="0,42 20,42 40,35 55,38 70,45 90,55 110,50 140,42 180,38 240,36"/>
<rect class="b" x="165" y="20" width="6" height="33"/>
<text class="ph" x="24" y="30">SS</text><text class="nm" x="145" y="22">PAF.00</text><text class="sn" x="24" y="63">SNR=0.8</text><text class="an" x="145" y="64">234°, 126°</text></g>

<g transform="translate(678,686)"><rect class="f" width="240" height="70"/><path class="k" d="M21,70v-3M68,70v-3M115,70v-3M162,70v-3M209,70v-3"/>
<text class="xt" y="96"><tspan x="21">0</tspan><tspan x="68">20</tspan><tspan x="115">40</tspan><tspan x="162">60</tspan><tspan x="209">80</tspan></text>
<text class="yt"><tspan x="-3" y="12">5</tspan><tspan x="-3" y="29">0</tspan><tspan x="-3" y="44">-5</tspan><tspan x="-3" y="62">-10</tspan></text>
<text class="e" x="4" y="-7">× 10<tspan dx="5" dy="-9" font-size="16">-8</tspan></text>
<polyline class="g" clip-path="url(#c)" points="21,22 40,12 60,5 80,10 100,25 115,55 125,62 140,45 155,35 175,30 195,15 215,8 240,5"/>
<polyline class="r" clip-path="url(#c)" points="0,22 60,22 80,25 100,30 115,45 130,35 150,15 170,10 190,15 220,20 240,25"/>
<rect class="b" x="165" y="12" width="6" height="33"/>
<text class="ph" x="24" y="20">SS</text><text class="nm" x="145" y="16">PEL.00</text><text class="sn" x="24" y="58">SNR=2.1</text><text class="an" x="145" y="58">83°, 139°</text></g>

<g transform="translate(1000,686)"><rect class="f" width="240" height="70"/><path class="k" d="M21,70v-3M68,70v-3M115,70v-3M162,70v-3M209,70v-3"/>
<text class="xt" y="96"><tspan x="21">0</tspan><tspan x="68">20</tspan><tspan x="115">40</tspan><tspan x="162">60</tspan><tspan x="209">80</tspan></text>
<text class="yt"><tspan x="-3" y="11">2</tspan><tspan x="-3" y="38">0</tspan><tspan x="-3" y="68">-2</tspan></text>
<text class="e" x="4" y="-7">× 10<tspan dx="5" dy="-9" font-size="16">-7</tspan></text>
<polyline class="g" clip-path="url(#c)" points="21,32 60,32 80,30 100,20 110,5 125,10 140,40 155,45 170,30 180,60 195,65 210,50 240,55"/>
<polyline class="r" clip-path="url(#c)" points="0,32 60,32 80,35 95,28 110,40 125,20 140,15 160,30 200,35 240,30"/>
<rect class="b" x="165" y="16" width="6" height="33"/>
<text class="ph" x="24" y="24">S</text><text class="nm" x="145" y="16">PPTF.00</text><text class="sn" x="24" y="60">SNR=1.5</text><text class="an" x="145" y="60">132°, 82°</text></g>

<g transform="translate(1322,686)"><rect class="f" width="240" height="70"/><path class="k" d="M21,70v-3M68,70v-3M115,70v-3M162,70v-3M209,70v-3"/>
<text class="xt" y="96"><tspan x="21">0</tspan><tspan x="68">20</tspan><tspan x="115">40</tspan><tspan x="162">60</tspan><tspan x="209">80</tspan></text>
<text class="yt"><tspan x="-3" y="16">5</tspan><tspan x="-3" y="43">0</tspan><tspan x="-3" y="70">-5</tspan></text>
<text class="e" x="4" y="-7">× 10<tspan dx="5" dy="-9" font-size="16">-8</tspan></text>
<polyline class="g" clip-path="url(#c)" points="21,45 30,10 40,20 50,25 60,55 70,55 85,40 100,20 110,5 120,5 135,20 150,30 165,10 180,25 200,30 220,30 240,35"/>
<polyline class="r" clip-path="url(#c)" points="0,35 15,40 30,10 45,40 60,55 80,45 100,30 120,22 140,25 170,35 200,42 240,38"/>
<rect class="b" x="165" y="18" width="6" height="33"/>
<text class="ph" x="24" y="26">SS</text><text class="nm" x="145" y="20">RER.00</text><text class="sn" x="24" y="62">SNR=1.2</text><text class="an" x="145" y="62">267°, 115°</text></g>

<!-- Row 7 -->
<g transform="translate(34,818)"><rect class="f" width="240" height="70"/><path class="k" d="M21,70v-3M68,70v-3M115,70v-3M162,70v-3M209,70v-3"/>
<text class="xt" y="96"><tspan x="21">0</tspan><tspan x="68">20</tspan><tspan x="115">40</tspan><tspan x="162">60</tspan><tspan x="209">80</tspan></text>
<text class="yt"><tspan x="-3" y="14">5</tspan><tspan x="-3" y="41">0</tspan><tspan x="-3" y="68">-5</tspan></text>
<text class="e" x="4" y="-7">× 10<tspan dx="5" dy="-9" font-size="16">-7</tspan></text>
<polyline class="g" clip-path="url(#c)" points="21,35 50,38 70,55 85,62 100,50 115,30 130,8 140,3 155,20 170,40 190,50 215,40 240,35"/>
<polyline class="r" clip-path="url(#c)" points="0,35 120,36 240,35"/>
<rect class="b" x="165" y="18" width="6" height="33"/>
<text class="ph" x="24" y="26">SS</text><text class="nm" x="145" y="18">ROCAM.00</text><text class="sn" x="24" y="60">SNR=1.8</text><text class="an" x="145" y="61">262°, 109°</text></g>

<g transform="translate(356,818)"><rect class="f" width="240" height="70"/><path class="k" d="M21,70v-3M68,70v-3M115,70v-3M162,70v-3M209,70v-3"/>
<text class="xt" y="96"><tspan x="21">0</tspan><tspan x="68">20</tspan><tspan x="115">40</tspan><tspan x="162">60</tspan><tspan x="209">80</tspan></text>
<text class="yt"><tspan x="-3" y="18">5</tspan><tspan x="-3" y="44">0</tspan><tspan x="-3" y="68">-5</tspan></text>
<text class="e" x="4" y="-7">× 10<tspan dx="5" dy="-9" font-size="16">-7</tspan></text>
<polyline class="g" clip-path="url(#c)" points="21,38 40,30 60,20 80,10 100,5 115,15 130,35 150,55 165,62 180,55 200,40 220,35 240,35"/>
<polyline class="r" clip-path="url(#c)" points="0,38 30,35 60,40 90,36 120,38 160,38 240,37"/>
<rect class="b" x="165" y="20" width="6" height="33"/>
<text class="ph" x="24" y="26">SS</text><text class="nm" x="145" y="20">ROCAM.10</text><text class="sn" x="24" y="63">SNR=1.1</text><text class="an" x="145" y="64">262°, 109°</text></g>

<g transform="translate(678,818)"><rect class="f" width="240" height="70"/><path class="k" d="M21,70v-3M68,70v-3M115,70v-3M162,70v-3M209,70v-3"/>
<text class="xt" y="96"><tspan x="21">0</tspan><tspan x="68">20</tspan><tspan x="115">40</tspan><tspan x="162">60</tspan><tspan x="209">80</tspan></text>
<text class="yt"><tspan x="-3" y="15">1</tspan><tspan x="-3" y="35">0</tspan><tspan x="-3" y="55">-1</tspan><tspan x="-3" y="73">-2</tspan></text>
<text class="e" x="4" y="-7">× 10<tspan dx="5" dy="-9" font-size="16">-7</tspan></text>
<polyline class="g" clip-path="url(#c)" points="21,30 70,30 85,35 100,60 112,55 125,20 140,0 155,20 170,35 180,50 195,35 215,35 240,30"/>
<polyline class="r" clip-path="url(#c)" points="0,30 60,30 80,32 95,20 105,60 120,40 130,10 140,0 155,20 170,40 200,38 240,30"/>
<rect class="b" x="165" y="16" width="6" height="33"/>
<text class="ph" x="24" y="24">S</text><text class="nm" x="145" y="18">SANVU.00</text><text class="sn" x="24" y="59">SNR=2.6</text><text class="an" x="145" y="61">172°, 67°</text></g>

<g transform="translate(1000,818)"><rect class="f" width="240" height="70"/><path class="k" d="M21,70v-3M68,70v-3M115,70v-3M162,70v-3M209,70v-3"/>
<text class="xt" y="96"><tspan x="21">0</tspan><tspan x="68">20</tspan><tspan x="115">40</tspan><tspan x="162">60</tspan><tspan x="209">80</tspan></text>
<text class="yt"><tspan x="-3" y="10">10</tspan><tspan x="-3" y="25">5</tspan><tspan x="-3" y="40">0</tspan><tspan x="-3" y="57">-5</tspan></text>
<text class="e" x="4" y="-7">× 10<tspan dx="5" dy="-9" font-size="16">-8</tspan></text>
<polyline class="g" clip-path="url(#c)" points="21,35 40,45 60,30 75,50 90,40 100,55 110,45 120,40 135,60 150,30 160,10 175,20 190,45 205,35 225,30 240,35"/>
<polyline class="r" clip-path="url(#c)" points="0,35 60,35 90,38 110,30 125,60 140,40 160,10 175,20 195,40 240,38"/>
<rect class="b" x="165" y="14" width="6" height="36"/>
<text class="ph" x="24" y="26">SS</text><text class="nm" x="145" y="20">SOK.00</text><text class="sn" x="24" y="59">SNR=1.4</text><text class="an" x="145" y="61">356°, 114°</text></g>

<g transform="translate(1322,818)"><rect class="f" width="240" height="70"/><path class="k" d="M21,70v-3M68,70v-3M115,70v-3M162,70v-3M209,70v-3"/>
<text class="xt" y="96"><tspan x="21">0</tspan><tspan x="68">20</tspan><tspan x="115">40</tspan><tspan x="162">60</tspan><tspan x="209">80</tspan></text>
<text class="yt"><tspan x="-3" y="13">1</tspan><tspan x="-3" y="34">0</tspan><tspan x="-3" y="56">-1</tspan></text>
<text class="e" x="4" y="-7">× 10<tspan dx="5" dy="-9" font-size="16">-7</tspan></text>
<polyline class="g" clip-path="url(#c)" points="21,30 60,30 80,25 100,35 110,15 120,0 128,35 138,65 150,40 165,20 180,25 200,30 240,35"/>
<polyline class="r" clip-path="url(#c)" points="0,30 80,30 95,35 108,20 120,5 130,45 138,68 150,40 165,20 190,30 240,32"/>
<rect class="b" x="165" y="15" width="6" height="33"/>
<text class="ph" x="24" y="22">S</text><text class="nm" x="145" y="16">SSB.00</text><text class="sn" x="24" y="58">SNR=4.4</text><text class="an" x="145" y="59">343°, 81°</text></g>

<!-- Row 8 -->
<g transform="translate(34,949)"><rect class="f" width="240" height="70"/><path class="k" d="M21,70v-3M68,70v-3M115,70v-3M162,70v-3M209,70v-3"/>
<text class="xt" y="96"><tspan x="21">0</tspan><tspan x="68">20</tspan><tspan x="115">40</tspan><tspan x="162">60</tspan><tspan x="209">80</tspan></text>
<text class="yt"><tspan x="-3" y="14">1</tspan><tspan x="-3" y="34">0</tspan><tspan x="-3" y="55">-1</tspan></text>
<text class="e" x="4" y="-7">× 10<tspan dx="5" dy="-9" font-size="16">-7</tspan></text>
<polyline class="g" clip-path="url(#c)" points="21,28 60,28 80,25 95,20 105,5 115,25 125,55 135,45 150,20 165,28 180,35 210,35 240,40"/>
<polyline class="r" clip-path="url(#c)" points="0,28 70,28 85,30 100,5 108,5 118,40 126,70 140,40 155,20 175,30 210,35 240,38"/>
<rect class="b" x="165" y="15" width="6" height="33"/>
<text class="ph" x="24" y="22">S</text><text class="nm" x="145" y="17">SSB.10</text><text class="sn" x="24" y="58">SNR=5</text><text class="an" x="145" y="59">343°, 81°</text></g>

<g transform="translate(356,949)"><rect class="f" width="240" height="70"/><path class="k" d="M21,70v-3M68,70v-3M115,70v-3M162,70v-3M209,70v-3"/>
<text class="xt" y="96"><tspan x="21">0</tspan><tspan x="68">20</tspan><tspan x="115">40</tspan><tspan x="162">60</tspan><tspan x="209">80</tspan></text>
<text class="yt"><tspan x="-3" y="11">5</tspan><tspan x="-3" y="38">0</tspan><tspan x="-3" y="66">-5</tspan></text>
<text class="e" x="4" y="-7">× 10<tspan dx="5" dy="-9" font-size="16">-8</tspan></text>
<polyline class="g" clip-path="url(#c)" points="21,32 40,25 60,20 80,28 100,40 115,60 130,40 145,20 160,40 175,65 190,50 205,25 220,20 240,0"/>
<polyline class="r" clip-path="url(#c)" points="0,32 60,32 80,35 100,45 115,62 130,45 150,5 160,15 175,40 200,35 240,35"/>
<rect class="b" x="165" y="15" width="6" height="33"/>
<text class="ph" x="24" y="24">SS</text><text class="nm" x="145" y="18">TAM.00</text><text class="sn" x="24" y="60">SNR=4</text><text class="an" x="145" y="61">336°, 103°</text></g>

<g transform="translate(678,949)"><rect class="f" width="240" height="70"/><path class="k" d="M21,70v-3M68,70v-3M115,70v-3M162,70v-3M209,70v-3"/>
<text class="xt" y="96"><tspan x="21">0</tspan><tspan x="68">20</tspan><tspan x="115">40</tspan><tspan x="162">60</tspan><tspan x="209">80</tspan></text>
<text class="yt"><tspan x="-3" y="7">4</tspan><tspan x="-3" y="19">2</tspan><tspan x="-3" y="31">0</tspan><tspan x="-3" y="43">-2</tspan><tspan x="-3" y="55">-4</tspan><tspan x="-3" y="67">-6</tspan></text>
<text class="e" x="4" y="-7">× 10<tspan dx="5" dy="-9" font-size="16">-8</tspan></text>
<polyline class="g" clip-path="url(#c)" points="21,26 40,18 60,15 80,20 100,35 110,50 120,65 130,45 145,25 160,40 175,55 190,40 210,20 230,5 240,0"/>
<polyline class="r" clip-path="url(#c)" points="0,26 60,26 80,22 100,25 115,50 125,65 140,35 150,10 165,20 185,35 210,30 240,28"/>
<rect class="b" x="165" y="15" width="6" height="33"/>
<text class="ph" x="24" y="24">SS</text><text class="nm" x="145" y="18">TAM.10</text><text class="sn" x="24" y="60">SNR=3</text><text class="an" x="145" y="61">336°, 103°</text></g>

<g transform="translate(1000,949)"><rect class="f" width="240" height="70"/><path class="k" d="M21,70v-3M68,70v-3M115,70v-3M162,70v-3M209,70v-3"/>
<text class="xt" y="96"><tspan x="21">0</tspan><tspan x="68">20</tspan><tspan x="115">40</tspan><tspan x="162">60</tspan><tspan x="209">80</tspan></text>
<text class="yt"><tspan x="-3" y="19">1</tspan><tspan x="-3" y="42">0</tspan><tspan x="-3" y="65">-1</tspan></text>
<text class="e" x="4" y="-7">× 10<tspan dx="5" dy="-9" font-size="16">-6</tspan></text>
<polyline class="g" clip-path="url(#c)" points="21,35 30,5 40,20 60,45 80,62 100,55 120,40 140,30 160,25 180,20 200,15 220,10 240,15"/>
<polyline class="r" clip-path="url(#c)" points="0,35 120,36 240,35"/>
<rect class="b" x="165" y="18" width="6" height="33"/>
<text class="ph" x="24" y="28">S</text><text class="nm" x="145" y="22">TAOE.00</text><text class="sn" x="24" y="62">SNR=1</text><text class="an" x="145" y="63">119°, 79°</text></g>

<g transform="translate(1322,949)"><rect class="f" width="240" height="70"/><path class="k" d="M21,70v-3M68,70v-3M115,70v-3M162,70v-3M209,70v-3"/>
<text class="xt" y="96"><tspan x="21">0</tspan><tspan x="68">20</tspan><tspan x="115">40</tspan><tspan x="162">60</tspan><tspan x="209">80</tspan></text>
<text class="yt"><tspan x="-3" y="16">1</tspan><tspan x="-3" y="39">0</tspan><tspan x="-3" y="61">-1</tspan></text>
<text class="e" x="4" y="-7">× 10<tspan dx="5" dy="-9" font-size="16">-7</tspan></text>
<polyline class="g" clip-path="url(#c)" points="21,33 60,30 80,35 95,25 105,5 115,30 125,55 140,45 155,30 170,40 190,45 210,55 225,65 240,60"/>
<polyline class="r" clip-path="url(#c)" points="0,33 80,33 95,30 105,5 115,30 128,68 140,50 155,35 175,35 200,28 240,30"/>
<rect class="b" x="165" y="18" width="6" height="33"/>
<text class="ph" x="24" y="26">S</text><text class="nm" x="145" y="20">UNM.00</text><text class="sn" x="24" y="60">SNR=2.1</text><text class="an" x="145" y="62">69°, 82°</text></g>

<!-- Row 9 -->
<g transform="translate(34,1080)"><rect class="f" width="240" height="70"/><path class="k" d="M21,70v-3M68,70v-3M115,70v-3M162,70v-3M209,70v-3"/>
<text class="xt" y="96"><tspan x="21">0</tspan><tspan x="68">20</tspan><tspan x="115">40</tspan><tspan x="162">60</tspan><tspan x="209">80</tspan></text>
<text class="yt"><tspan x="-3" y="16">1</tspan><tspan x="-3" y="39">0</tspan><tspan x="-3" y="64">-1</tspan></text>
<text class="e" x="4" y="-7">× 10<tspan dx="5" dy="-9" font-size="16">-7</tspan></text>
<polyline class="g" clip-path="url(#c)" points="21,33 60,33 80,38 100,35 115,20 125,15 140,25 160,40 180,42 200,38 220,30 240,35"/>
<polyline class="r" clip-path="url(#c)" points="0,33 80,33 100,40 115,20 125,5 140,15 160,40 180,35 210,25 240,30"/>
<rect class="b" x="165" y="18" width="6" height="33"/>
<text class="ph" x="24" y="26">S</text><text class="nm" x="145" y="20">WUS.00</text><text class="sn" x="24" y="60">SNR=2.6</text><text class="an" x="145" y="62">293°, 54°</text></g>

<g transform="translate(356,1080)"><rect class="f" width="240" height="70"/><path class="k" d="M21,70v-3M68,70v-3M115,70v-3M162,70v-3M209,70v-3"/>
<text class="xt" y="96"><tspan x="21">0</tspan><tspan x="68">20</tspan><tspan x="115">40</tspan><tspan x="162">60</tspan><tspan x="209">80</tspan></text>
<text class="yt"><tspan x="-3" y="16">1</tspan><tspan x="-3" y="39">0</tspan><tspan x="-3" y="64">-1</tspan></text>
<text class="e" x="4" y="-7">× 10<tspan dx="5" dy="-9" font-size="16">-7</tspan></text>
<polyline class="g" clip-path="url(#c)" points="21,33 60,33 80,40 100,35 115,20 125,12 140,25 160,40 180,40 200,35 220,30 240,33"/>
<polyline class="r" clip-path="url(#c)" points="0,33 80,33 100,40 115,20 125,5 140,15 160,40 180,35 210,25 240,30"/>
<rect class="b" x="165" y="18" width="6" height="33"/>
<text class="ph" x="24" y="26">S</text><text class="nm" x="145" y="20">WUS.10</text><text class="sn" x="24" y="60">SNR=1.9</text><text class="an" x="145" y="62">293°, 54°</text></g>

<!-- Legend -->
<text class="lg" x="1322" y="1085">Type = SH waves</text>
<text class="lg" x="1322" y="1098">Black=Data</text>
<text class="lg" x="1322" y="1112">Red=Model</text>
<text class="lg" x="1322" y="1126">Y = Displacement(m)</text>
<text class="lg" x="1351" y="1138">[0.012Hz 0.04Hz]</text>
<text class="lg" x="1322" y="1152">X = Time(s)</text>
</svg>
</body></html>
